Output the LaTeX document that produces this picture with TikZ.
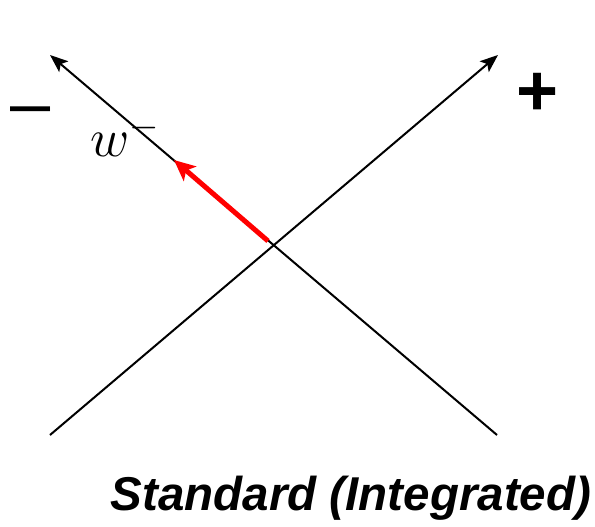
\documentclass[tikz,border=0pt]{standalone}
\usepackage{fix-cm}
\usepackage{fontspec}
\newfontfamily\arialfont{Liberation Sans}
\usetikzlibrary{arrows.meta}
\tikzset{
  axis/.style={black,line width=2pt,-{Stealth[length=18pt,width=14pt,inset=4pt]}},
  weight/.style={red,line width=5pt,-{Stealth[length=21pt,width=19pt,inset=5pt]}},
  sign/.style={font=\arialfont\fontsize{72}{80}\selectfont,inner sep=0pt,anchor=base},
}
\begin{document}
\begin{tikzpicture}[x=1pt,y=-1pt]
\useasboundingbox (0,0) rectangle (595,527);
% axes of the two classes
\coordinate (bl) at (50,435);
\coordinate (tr) at (498,55);
\coordinate (br) at (497,435);
\coordinate (tl) at (50,55);
\draw[axis] (bl) -- (tr);
\draw[axis] (br) -- (tl);
% weight vector
\coordinate (w0) at (268,241);
\coordinate (w1) at (174,160);
\draw[weight] (w0) -- (w1);
\node[sign] (minus) at (31,128) {–};
\node[sign,font=\arialfont\bfseries\fontsize{72}{80}\selectfont] (plus) at (538,116) {+};
\node[anchor=base west,inner sep=0pt,font=\fontsize{54}{60}\selectfont] (wlab) at (90,157) {$w^-$};
\node[anchor=base,inner sep=0pt,font=\arialfont\bfseries\itshape\fontsize{47.5}{52}\selectfont] (title) at (351,510) {Standard (Integrated)};
\end{tikzpicture}
\end{document}
